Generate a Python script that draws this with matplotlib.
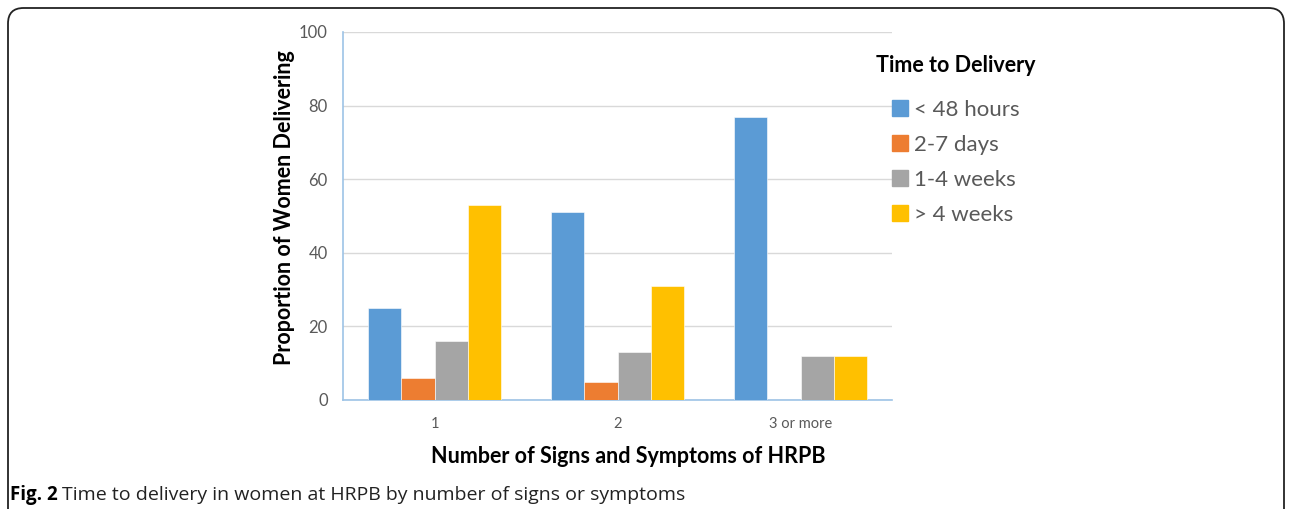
import matplotlib
matplotlib.use("Agg")
import matplotlib.pyplot as plt
import numpy as np
from matplotlib.patches import FancyBboxPatch, Patch

categories = ["1", "2", "3 or more"]
series_names = ["< 48 hours", "2-7 days", "1-4 weeks", "> 4 weeks"]
lt48h = [25, 51, 77]
d2_7 = [6, 5, 0]
w1_4 = [16, 13, 12]
gt4w = [53, 31, 12]
series = [lt48h, d2_7, w1_4, gt4w]
colors = ["#5B9BD5", "#ED7D31", "#A5A5A5", "#FFC000"]
yticks = [0, 20, 40, 60, 80, 100]

plt.rcParams['font.family'] = ['Lato', 'DejaVu Sans']
W, H = 1292, 509
fig = plt.figure(figsize=(W/100, H/100), dpi=100)

# outer rounded frame
frame = FancyBboxPatch((8/W, -20/H), (1284-8)/W, (H-8+20)/H,
                       boxstyle="round,pad=0,rounding_size=0.012",
                       transform=fig.transFigure, fill=False,
                       edgecolor="#222222", linewidth=1.3, mutation_aspect=W/H)
fig.patches.append(frame)

ax = fig.add_axes([343/W, 1-400/H, (892-343)/W, (400-32)/H])
x = np.arange(len(categories))
bw = 0.183
for i, (vals, c) in enumerate(zip(series, colors)):
    ax.bar(x + (i-1.5)*bw, vals, width=bw, color=c, edgecolor="white", linewidth=0.4, zorder=3)

ax.set_xlim(-0.5, 2.5)
ax.set_ylim(0, 100)
ax.set_yticks(yticks)
ax.set_xticks(x)
ax.set_xticklabels(categories)
ax.yaxis.grid(True, color="#D9D9D9", linewidth=1, zorder=0)
for s in ["top", "right"]:
    ax.spines[s].set_visible(False)
ax.spines["left"].set_color("#9DC3E6")
ax.spines["bottom"].set_color("#9DC3E6")
ax.spines["left"].set_linewidth(1.2)
ax.spines["bottom"].set_linewidth(1.2)
ax.tick_params(axis="both", length=0, colors="#595959")
ax.tick_params(axis="y", labelsize=12, pad=11)
ax.tick_params(axis="x", labelsize=10.5, pad=12)

ax.set_ylabel("Proportion of Women Delivering", fontsize=15.5, fontweight="bold", color="black")
ax.yaxis.set_label_coords(-(343-295)/(892-343), (400-207.5)/(400-32), transform=ax.transAxes)
ax.set_xlabel("Number of Signs and Symptoms of HRPB", fontsize=15.5, fontweight="bold", color="black")
ax.xaxis.set_label_coords((628-343)/(892-343), -(446-400)/(400-32), transform=ax.transAxes)

handles = [Patch(facecolor=c, edgecolor=c) for c in colors]
leg = fig.legend(handles, series_names, loc="upper left", bbox_to_anchor=(856/W, 1-35/H),
                 frameon=False, fontsize=16, title="Time to Delivery",
                 handlelength=0.72, handleheight=0.72, handletextpad=0.3,
                 labelspacing=0.68, labelcolor="#595959")
leg.get_title().set_fontsize(15.5)
leg.get_title().set_fontweight("bold")
leg._legend_box.sep = 17

fig.text(10/W, 1-495/H, "Fig. 2", fontsize=13.5, fontweight="bold", va="center", ha="left",
         family=["Open Sans", "DejaVu Sans"])
fig.text(62/W, 1-495/H, "Time to delivery in women at HRPB by number of signs or symptoms",
         fontsize=14, va="center", ha="left", family=["Open Sans", "DejaVu Sans"], color="#222222")

fig.savefig("out.png", dpi=100)
